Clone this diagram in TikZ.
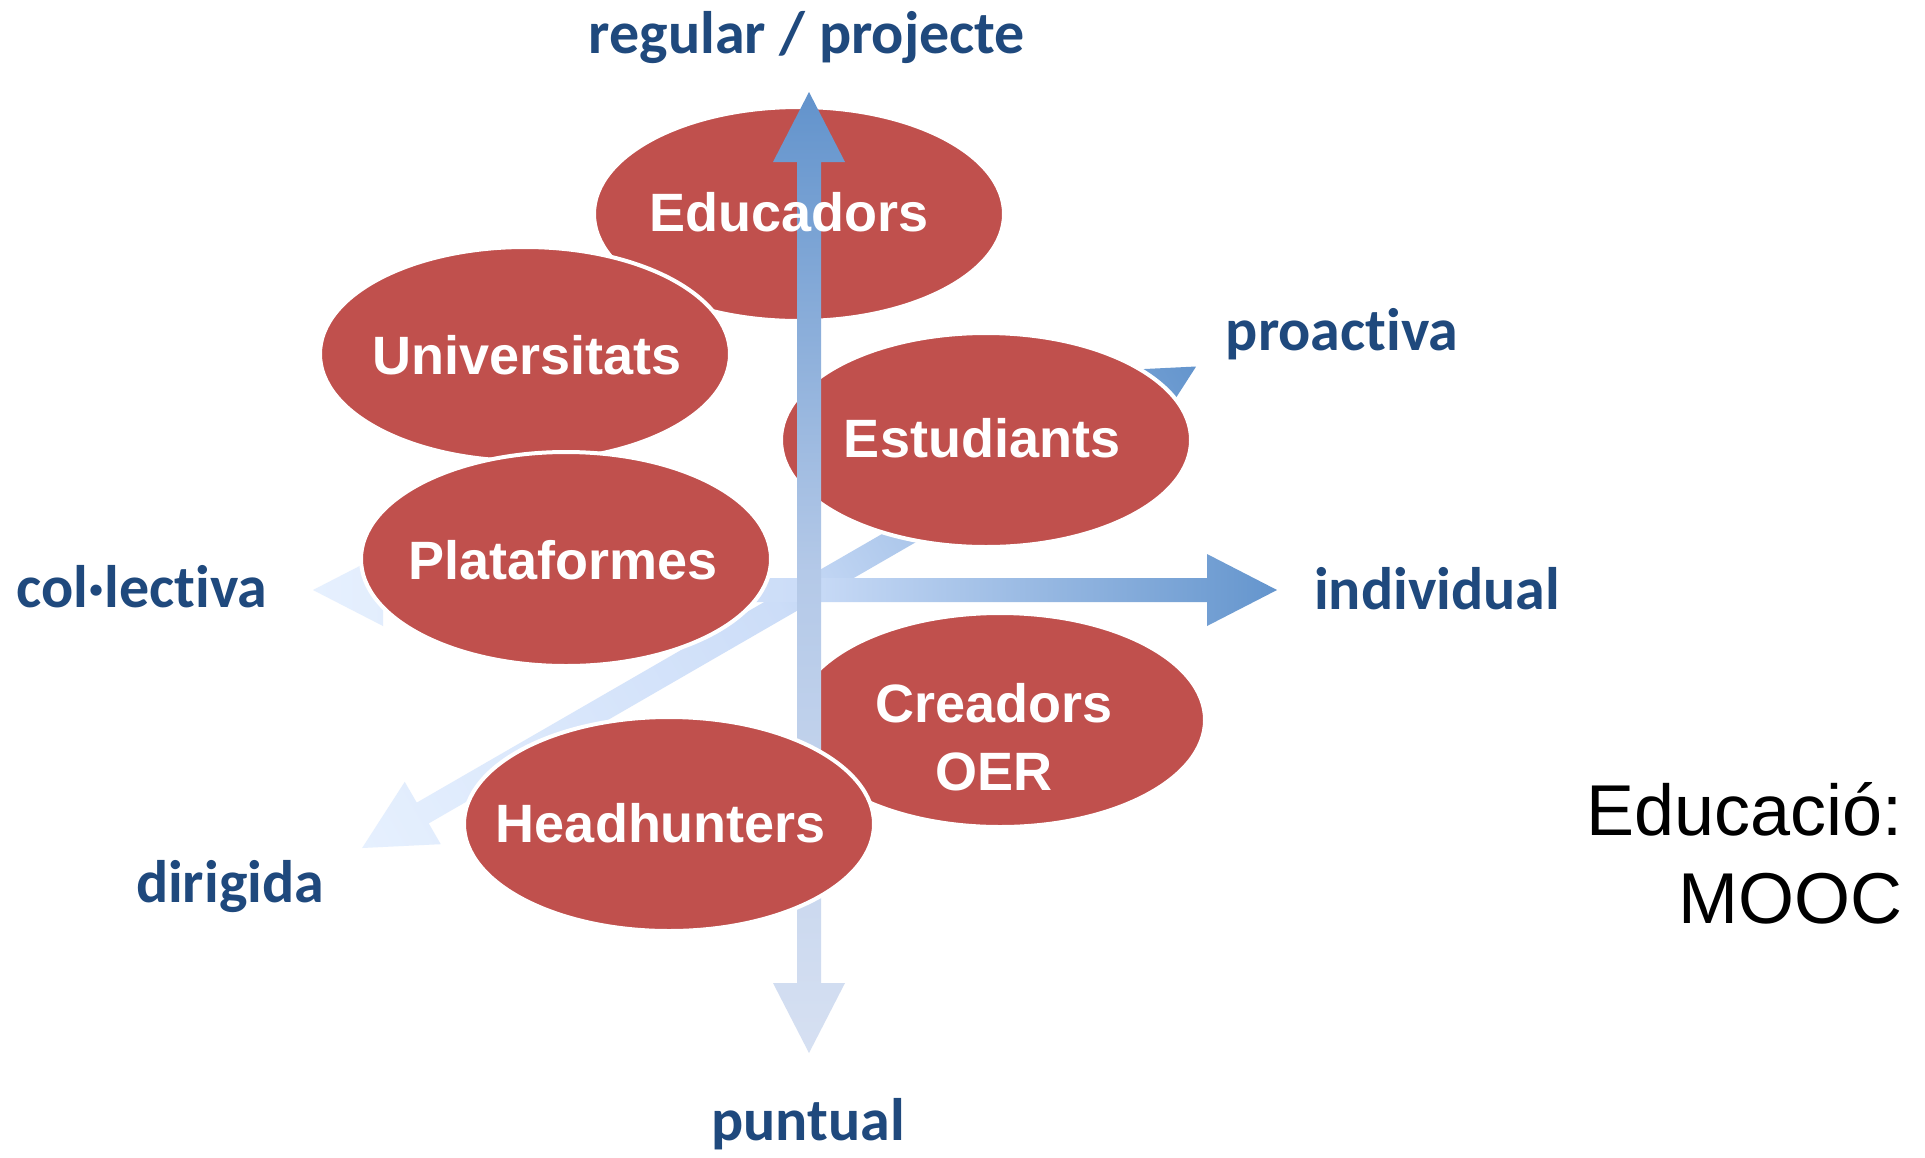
\documentclass[tikz,border=0pt]{standalone}
\usepackage{fontspec}
\usetikzlibrary{shapes.geometric}
\newfontfamily\lblfont{Carlito}[Ligatures=NoCommon]
\newfontfamily\ellfont{Liberation Sans}
\definecolor{ellred}{HTML}{C0504D}
\definecolor{lblblue}{HTML}{1F497D}
\definecolor{axlight}{HTML}{E6F0FE}
\definecolor{axmid}{HTML}{CCDDF8}
\definecolor{axdark}{HTML}{6495CD}
\definecolor{vlight}{HTML}{D6E0F2}
\definecolor{vmid}{HTML}{B4C9E8}
\definecolor{vdark}{HTML}{6293CC}
\newcommand\axisarrow[6]{%
  \begin{scope}[transform canvas={shift={(809pt,-590pt)},rotate=#1}]
    \shade[left color=#4, right color=#6, middle color=#5]
      (-#2,0) -- ({-#2+70},36) -- ({-#2+70},12) -- ({#3-70},12) -- ({#3-70},36)
      -- (#3,0) -- ({#3-70},-36) -- ({#3-70},-12) -- ({-#2+70},-12) -- ({-#2+70},-36) -- cycle;
  \end{scope}}
\tikzset{
  ell/.style={ellipse, fill=ellred, draw=white, line width=4pt,
    minimum width=410pt, minimum height=214pt, inner sep=0pt},
  elltext/.style={text=white, font=\ellfont\bfseries\fontsize{54}{68}\selectfont,
    inner sep=0pt, align=center},
  axlbl/.style={text=lblblue, font=\lblfont\bfseries\fontsize{60}{72}\selectfont,
    inner sep=0pt, anchor=base},
  titletext/.style={text=black, font=\ellfont\fontsize{72}{88}\selectfont,
    inner sep=0pt, anchor=base east}
}
\begin{document}
\begin{tikzpicture}[x=1pt,y=1pt]
\useasboundingbox[fill=white] (0,0) rectangle (1925,-1157);
\coordinate (o) at (809,-590);
% back ellipses
\node[ell] (edu) at (799,-214) {};
\node[ell] (uni) at (525,-354) {};
% diagonal axis (dirigida -> proactiva)
\axisarrow{30}{516}{447}{axlight}{axmid}{axdark}
% horizontal axis (col.lectiva -> individual)
\axisarrow{0}{496}{468}{axlight}{axmid}{axdark}
% middle ellipses
\node[ell] (pla) at (566,-559) {};
\node[ell] (est) at (986,-440) {};
\node[ell] (cre) at (1000,-720) {};
% vertical axis (puntual -> regular)
\axisarrow{90}{463}{498}{vlight}{vmid}{vdark}
% front ellipse
\node[ell] (hea) at (669,-824) {};
% ellipse texts
\node[elltext] (edu-t) at (789,-212) {Educadors};
\node[elltext] (uni-t) at (527,-355) {Universitats};
\node[elltext] (est-t) at (982,-438) {Estudiants};
\node[elltext] (pla-t) at (563,-560) {Plataformes};
\node[elltext] (cre-t) at (994,-737) {Creadors\\OER};
\node[elltext] (hea-t) at (661,-823) {Headhunters};
% axis labels
\node[axlbl] (reg) at (807,-53) {regular / projecte};
\node[axlbl] (pro) at (1342,-350) {proactiva};
\node[axlbl] (ind) at (1437,-609) {individual};
\node[axlbl] (col) at (142,-607) {col·lectiva};
\node[axlbl] (dir) at (230,-902) {dirigida};
\node[axlbl] (pun) at (808,-1140) {puntual};
% title
\node[titletext] (t1) at (1903,-835) {Educació:};
\node[titletext] (t2) at (1903,-923) {MOOC};
\end{tikzpicture}
\end{document}
